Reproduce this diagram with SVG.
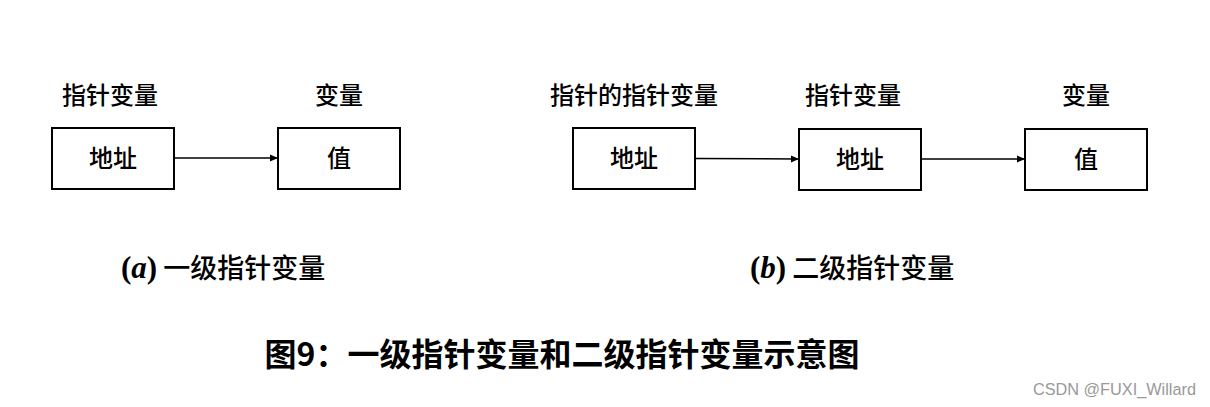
<svg xmlns="http://www.w3.org/2000/svg" width="1210" height="407" viewBox="0 0 1210 407">
<style>
.box{fill:#fff;stroke:#000;stroke-width:2}
.t{font-family:"Noto Sans CJK SC","Liberation Sans",sans-serif;font-size:24px;fill:#000;text-anchor:middle;font-weight:500}
.cap{font-family:"Noto Sans CJK SC","Liberation Sans",sans-serif;font-size:27px;fill:#000;font-weight:500}
.math{font-family:"Liberation Serif",serif;font-weight:bold;font-size:31px}
.title{font-family:"Noto Sans CJK SC","Liberation Sans",sans-serif;font-size:32px;font-weight:bold;fill:#000;text-anchor:middle}
.wm{font-family:"Liberation Sans",sans-serif;font-size:16.3px;fill:#999;text-anchor:end}
.conn{stroke:#000;stroke-width:1.5;fill:none;marker-end:url(#ah)}
</style>
<defs>
<marker id="ah" markerWidth="8" markerHeight="8" refX="8" refY="4" orient="auto" markerUnits="userSpaceOnUse">
<path d="M0,0.5 L8,4 L0,7.5 Z" fill="#000"/>
</marker>
</defs>
<rect width="1210" height="407" fill="#fff"/>
<g id="connectors">
<line class="conn" x1="174" y1="158" x2="278" y2="158"/>
<line class="conn" x1="695" y1="158.5" x2="799" y2="159"/>
<line class="conn" x1="921" y1="159" x2="1025" y2="159"/>
</g>
<g id="n1">
<text class="t" x="110" y="104">指针变量</text>
<rect class="box" x="52" y="128" width="122" height="61"/>
<text class="t" x="113" y="167">地址</text>
</g>
<g id="n2">
<text class="t" x="339" y="104">变量</text>
<rect class="box" x="278" y="128" width="122" height="61"/>
<text class="t" x="339" y="167">值</text>
</g>
<g id="n3">
<text class="t" x="634" y="104">指针的指针变量</text>
<rect class="box" x="573" y="128" width="122" height="61"/>
<text class="t" x="634" y="167">地址</text>
</g>
<g id="n4">
<text class="t" x="853" y="104">指针变量</text>
<rect class="box" x="799" y="129" width="122" height="61"/>
<text class="t" x="860" y="168">地址</text>
</g>
<g id="n5">
<text class="t" x="1086" y="104">变量</text>
<rect class="box" x="1025" y="129" width="122" height="61"/>
<text class="t" x="1086" y="168">值</text>
</g>
<g id="captions">
<text class="cap" x="121" y="278"><tspan class="math">(<tspan font-style="italic">a</tspan>)</tspan> 一级指针变量</text>
<text class="cap" x="750" y="278"><tspan class="math">(<tspan font-style="italic">b</tspan>)</tspan> 二级指针变量</text>
<text class="title" x="562" y="366">图9：一级指针变量和二级指针变量示意图</text>
<text class="wm" x="1196" y="395">CSDN @FUXI_Willard</text>
</g>
</svg>
